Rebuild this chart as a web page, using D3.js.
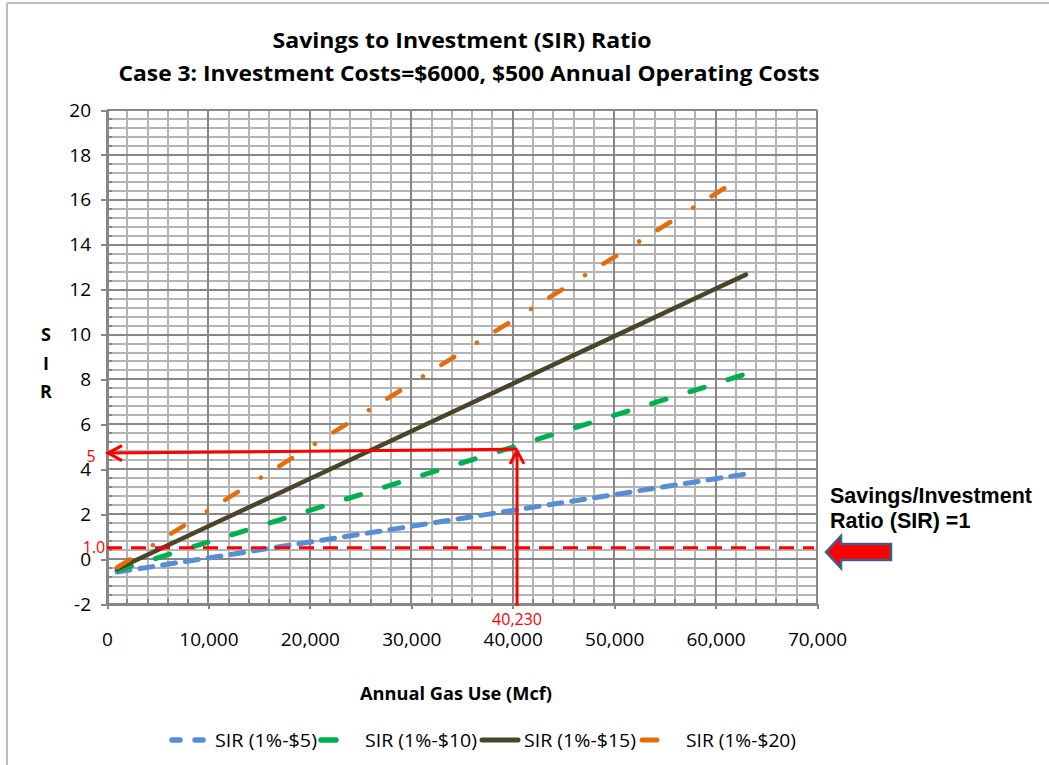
<!DOCTYPE html>
<html><head><meta charset="utf-8">
<script src="https://cdn.jsdelivr.net/npm/d3@7"></script>
<style>body{margin:0;background:#fff}svg{display:block}</style>
</head><body>
<svg id="chart" width="1049" height="765"></svg>
<script>
// ---- data ----
const gasUse = [1000, 10000, 20000, 30000, 40000, 50000, 60000, 63000];
const sir5  = [-0.58, 0.05, 0.76, 1.46, 2.17, 2.87, 3.58, 3.79];
const sir10 = [-0.51, 0.76, 2.17, 3.58, 4.99, 6.40, 7.81, 8.25];
const sir15 = [-0.44, 1.46, 3.58, 5.69, 7.81, 9.92, 12.04, 12.67];
const sir20 = [-0.37, 2.17, 4.99, 7.81, 10.63, 13.45, 16.27, 17.12];
const seriesNames = ["SIR (1%-$5)", "SIR (1%-$10)", "SIR (1%-$15)", "SIR (1%-$20)"];
const xTicks = [0, 10000, 20000, 30000, 40000, 50000, 60000, 70000];
const yTicks = [-2, 0, 2, 4, 6, 8, 10, 12, 14, 16, 18, 20];
const titleLines = ["Savings to Investment (SIR) Ratio", "Case 3: Investment Costs=$6000, $500 Annual Operating Costs"];
const xTitle = "Annual Gas Use (Mcf)";
const yTitle = ["S", "I", "R"];
// annotations (as drawn in the reference)
const breakEvenGas = 40230, breakEvenLabel = "40,230";
const arrowSirRight = 4.90, arrowSirLeft = 4.72, arrowGasLeft = 100, sirLabel = "5";
const vArrowSirBottom = -2.08, vArrowSirTop = 4.82;
const refLineSir = 0.5, refLabel = "1.0";
const noteLines = ["Savings/Investment", "Ratio (SIR) =1"];

const svg = d3.select("#chart");
const W = 1049, H = 765;
const x = d3.scaleLinear().domain([0, 70000]).range([107, 817]);
const y = d3.scaleLinear().domain([-2, 20]).range([604, 110]);
const FONT = "'Open Sans', sans-serif";

// outer frame (top & left visible)
svg.append("line").attr("x1", 7).attr("y1", 3).attr("x2", W).attr("y2", 3).attr("stroke", "#bdbdbd").attr("stroke-width", 2);
svg.append("line").attr("x1", 7).attr("y1", 3).attr("x2", 7).attr("y2", H).attr("stroke", "#bdbdbd").attr("stroke-width", 2);

// grid
const g = svg.append("g").attr("shape-rendering", "crispEdges");
const xMinor = d3.range(0, 70001, 2000);
const yMinor = d3.range(-2, 20.001, 0.4).map(v => Math.round(v * 10) / 10);
const isMajorX = v => v % 10000 === 0;
const isMajorY = v => Math.abs(v / 2 - Math.round(v / 2)) < 1e-6;
g.selectAll(".vmin").data(xMinor.filter(v => !isMajorX(v))).join("line")
  .attr("x1", d => x(d)).attr("x2", d => x(d)).attr("y1", y(20)).attr("y2", y(-2))
  .attr("stroke", "#b4b4b4").attr("stroke-width", 2);
g.selectAll(".hmin").data(yMinor.filter(v => !isMajorY(v))).join("line")
  .attr("x1", x(0)).attr("x2", x(70000)).attr("y1", d => y(d)).attr("y2", d => y(d))
  .attr("stroke", "#b4b4b4").attr("stroke-width", 2);
g.selectAll(".vmaj").data(xTicks).join("line")
  .attr("x1", d => x(d)).attr("x2", d => x(d)).attr("y1", y(20)).attr("y2", y(-2))
  .attr("stroke", "#878787").attr("stroke-width", 2);
g.selectAll(".hmaj").data(yTicks).join("line")
  .attr("x1", x(0)).attr("x2", x(70000)).attr("y1", d => y(d)).attr("y2", d => y(d))
  .attr("stroke", "#878787").attr("stroke-width", 2);
// minor inner ticks
g.selectAll(".ymt").data(yMinor.filter(v => !isMajorY(v))).join("line")
  .attr("x1", x(0)).attr("x2", x(0) + 5).attr("y1", d => y(d)).attr("y2", d => y(d))
  .attr("stroke", "#878787").attr("stroke-width", 2);
g.selectAll(".xmt").data(xMinor.filter(v => !isMajorX(v))).join("line")
  .attr("x1", d => x(d)).attr("x2", d => x(d)).attr("y1", y(-2)).attr("y2", y(-2) - 5)
  .attr("stroke", "#878787").attr("stroke-width", 2);

// axes
const yAxis = svg.append("g").attr("transform", `translate(${x(0)},0)`)
  .call(d3.axisLeft(y).tickValues(yTicks).tickSize(6).tickPadding(10).tickFormat(d => String(d)));
const xAxis = svg.append("g").attr("transform", `translate(0,${y(-2)})`)
  .call(d3.axisBottom(x).tickValues(xTicks).tickSize(5).tickPadding(24).tickFormat(d3.format(",")));
[yAxis, xAxis].forEach(a => {
  a.select(".domain").attr("stroke", "#878787").attr("stroke-width", 2).attr("shape-rendering", "crispEdges");
  a.selectAll(".tick line").attr("stroke", "#878787").attr("stroke-width", 2).attr("shape-rendering", "crispEdges");
  a.selectAll("text").attr("fill", "#000").style("font-family", FONT).style("font-size", "19px");
});

// series
const seriesVals = [sir5, sir10, sir15, sir20];
const styles = [
  {color: "#558ed5", w: 5, dash: "13,10"},
  {color: "#00b050", w: 5, dash: "15,25"},
  {color: "#4a452a", w: 4.5, dash: null},
  {color: "#e46c0a", w: 4.5, dash: "15,27,0.01,21.7"}
];
const line = d3.line().x(d => x(d[0])).y(d => y(d[1]));
seriesVals.forEach((vals, i) => {
  const pts = gasUse.map((gv, j) => [gv, vals[j]]);
  const p = svg.append("path").attr("d", line(pts)).attr("fill", "none")
    .attr("stroke", styles[i].color).attr("stroke-width", styles[i].w)
    .attr("stroke-linecap", "round").attr("stroke-linejoin", "round");
  if (styles[i].dash) p.attr("stroke-dasharray", styles[i].dash);
});

// red reference dashed line
svg.append("line").attr("x1", x(0)).attr("x2", x(69700)).attr("y1", y(refLineSir)).attr("y2", y(refLineSir))
  .attr("stroke", "#ff0000").attr("stroke-width", 3).attr("stroke-dasharray", "15,9");

// red arrows
const red = "#ff0000";
const hx1 = x(breakEvenGas) + 2, hy1 = y(arrowSirRight), hx0 = x(arrowGasLeft), hy0 = y(arrowSirLeft);
svg.append("line").attr("x1", hx1).attr("y1", hy1).attr("x2", hx0 + 1).attr("y2", hy0)
  .attr("stroke", red).attr("stroke-width", 3);
svg.append("path").attr("d", `M${hx0 + 14},${hy0 - 7.5} L${hx0},${hy0} L${hx0 + 14},${hy0 + 7.5}`)
  .attr("fill", "none").attr("stroke", red).attr("stroke-width", 3).attr("stroke-linejoin", "miter");
const vx = x(breakEvenGas) + 2, vy0 = y(vArrowSirBottom), vy1 = y(vArrowSirTop);
svg.append("line").attr("x1", vx).attr("y1", vy0).attr("x2", vx).attr("y2", vy1 + 1)
  .attr("stroke", red).attr("stroke-width", 3);
svg.append("path").attr("d", `M${vx - 7},${vy1 + 13} L${vx},${vy1} L${vx + 7},${vy1 + 13}`)
  .attr("fill", "none").attr("stroke", red).attr("stroke-width", 3);

// red labels
svg.append("text").attr("x", 91).attr("y", hy0 + 9).attr("text-anchor", "middle")
  .style("font-family", FONT).style("font-size", "16px").attr("fill", red).text(sirLabel);
svg.append("text").attr("x", 94).attr("y", y(refLineSir) + 5).attr("text-anchor", "middle")
  .style("font-family", FONT).style("font-size", "16px").attr("fill", red).text(refLabel);
svg.append("text").attr("x", vx).attr("y", 625).attr("text-anchor", "middle")
  .style("font-family", FONT).style("font-size", "16px").attr("fill", red).text(breakEvenLabel);

// titles
const tl = [[462, 48, 379], [469, 81, 701]];
titleLines.forEach((t, i) => {
  svg.append("text").attr("x", tl[i][0]).attr("y", tl[i][1]).attr("text-anchor", "middle")
    .attr("textLength", tl[i][2]).attr("lengthAdjust", "spacingAndGlyphs")
    .style("font-family", FONT).style("font-weight", "bold").style("font-size", "21px").text(t);
});
svg.append("text").attr("x", 456).attr("y", 700).attr("text-anchor", "middle")
  .attr("textLength", 192).attr("lengthAdjust", "spacingAndGlyphs")
  .style("font-family", FONT).style("font-weight", "bold").style("font-size", "17px").text(xTitle);
yTitle.forEach((t, i) => {
  svg.append("text").attr("x", 46).attr("y", 341 + i * 28.5).attr("text-anchor", "middle")
    .style("font-family", FONT).style("font-weight", "bold").style("font-size", "18px").text(t);
});

// right note
noteLines.forEach((t, i) => {
  svg.append("text").attr("x", 830).attr("y", 503 + i * 25)
    .style("font-family", "'Liberation Sans', Arial, sans-serif").style("font-weight", "bold")
    .style("font-size", "21.5px").text(t);
});
svg.append("path")
  .attr("d", "M826,552 L841,536 L841,544 L891,544 L891,560 L841,560 L841,568 Z")
  .attr("fill", "#ff0000").attr("stroke", "#3e5f8a").attr("stroke-width", 2.5).attr("stroke-linejoin", "miter");

// legend
const legendY = 740;
const legendLayout = [
  {x1: 172, x2: 204, text: 215, tw: 102, dash: "8,15"},
  {x1: 321, x2: 336, text: 365, tw: 112, dash: null},
  {x1: 482, x2: 518, text: 524, tw: 112, dash: null},
  {x1: 642, x2: 657, text: 686, tw: 110, dash: null}
];
seriesNames.forEach((n, i) => {
  const L = legendLayout[i];
  const ln = svg.append("line").attr("x1", L.x1).attr("x2", L.x2).attr("y1", legendY).attr("y2", legendY)
    .attr("stroke", styles[i].color).attr("stroke-width", styles[i].w + 0.5).attr("stroke-linecap", "round");
  if (L.dash) ln.attr("stroke-dasharray", L.dash);
  svg.append("text").attr("x", L.text).attr("y", legendY + 6.5)
    .attr("textLength", L.tw).attr("lengthAdjust", "spacingAndGlyphs")
    .style("font-family", FONT).style("font-size", "18px").text(n);
});
</script>
</body></html>
